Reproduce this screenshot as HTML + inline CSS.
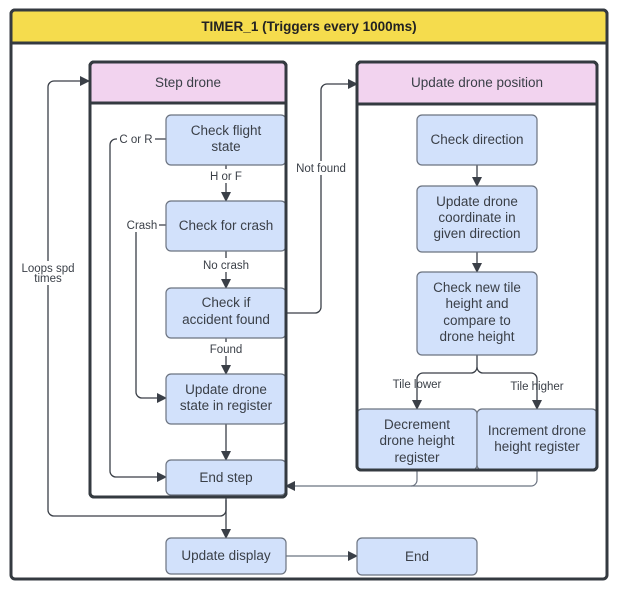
<!DOCTYPE html>
<html><head><meta charset="utf-8"><style>
html,body{margin:0;padding:0;background:#fff;}
svg{display:block;font-family:"Liberation Sans",Arial,sans-serif;}
.n{fill:#d2e1fb;stroke:#6b7380;stroke-width:1.2;}
.t{font-size:13.5px;fill:#3a3f47;text-anchor:middle;}
.l{font-size:11.5px;fill:#3a3f47;text-anchor:middle;}
.c{fill:none;stroke:#3a3f47;stroke-width:1.3;}
.c2{fill:none;stroke:#6b7380;stroke-width:1.2;}
</style></head><body>
<svg width="619" height="601" viewBox="0 0 619 601">
<defs><marker id="a" markerWidth="10" markerHeight="10" refX="9" refY="5" orient="auto" markerUnits="userSpaceOnUse"><path d="M0,0 L10,5 L0,10z" fill="#3a3f47"/></marker></defs>
<!-- outer -->
<rect x="11" y="10" width="596" height="569" rx="4" fill="#fff" stroke="#343a40" stroke-width="3"/>
<path d="M11,43 V14 a4,4 0 0 1 4,-4 H603 a4,4 0 0 1 4,4 V43 Z" fill="#f5dc4d" stroke="#343a40" stroke-width="3"/>
<text x="309" y="31" text-anchor="middle" font-size="13.5" font-weight="bold" fill="#222">TIMER_1 (Triggers every 1000ms)</text>
<!-- step drone container -->
<rect x="90" y="62" width="196" height="435" rx="4" fill="#fff" stroke="#343a40" stroke-width="3"/>
<path d="M90,103 V66 a4,4 0 0 1 4,-4 H282 a4,4 0 0 1 4,4 V103 Z" fill="#f2d3ef" stroke="#343a40" stroke-width="3"/>
<text class="t" x="188" y="87">Step drone</text>
<!-- update position container -->
<rect x="357" y="62" width="240" height="408" rx="4" fill="#fff" stroke="#343a40" stroke-width="3"/>
<path d="M357,104 V66 a4,4 0 0 1 4,-4 H593 a4,4 0 0 1 4,4 V104 Z" fill="#f2d3ef" stroke="#343a40" stroke-width="3"/>
<text class="t" x="477" y="87">Update drone position</text>
<!-- connectors -->
<path class="c" d="M226,165 V201" marker-end="url(#a)"/>
<path class="c" d="M226,251 V288" marker-end="url(#a)"/>
<path class="c" d="M226,338 V374" marker-end="url(#a)"/>
<path class="c" d="M226,424 V460" marker-end="url(#a)"/>
<path class="c" d="M226,495 V538" marker-end="url(#a)"/>
<path class="c" d="M226,500 V510 a6,6 0 0 1 -6,6 H54 a6,6 0 0 1 -6,-6 V87 a6,6 0 0 1 6,-6 H89" marker-end="url(#a)"/>
<path class="c" d="M166,139 H116 a6,6 0 0 0 -6,6 V471 a6,6 0 0 0 6,6 H166" marker-end="url(#a)"/>
<path class="c" d="M166,225 H142 a6,6 0 0 0 -6,6 V392 a6,6 0 0 0 6,6 H166" marker-end="url(#a)"/>
<path class="c" d="M286,313 H315 a6,6 0 0 0 6,-6 V90 a6,6 0 0 1 6,-6 H357" marker-end="url(#a)"/>
<path class="c" d="M477,165 V186" marker-end="url(#a)"/>
<path class="c" d="M477,252 V272" marker-end="url(#a)"/>
<path class="c" d="M477,355 V367 a6,6 0 0 1 -6,6 H423 a6,6 0 0 0 -6,6 V409" marker-end="url(#a)"/>
<path class="c" d="M477,367 a6,6 0 0 0 6,6 H531 a6,6 0 0 1 6,6 V409" marker-end="url(#a)"/>
<path class="c2" d="M417,470 V480 a6,6 0 0 1 -6,6 H286" marker-end="url(#a)"/>
<path class="c2" d="M537,470 V480 a6,6 0 0 1 -6,6 H411"/>
<path class="c2" d="M286,556 H357" marker-end="url(#a)"/>
<!-- labels -->
<rect x="204" y="169" width="44" height="14" fill="#fff"/><text class="l" x="226" y="180">H or F</text>
<rect x="198" y="258" width="56" height="14" fill="#fff"/><text class="l" x="226" y="269">No crash</text>
<rect x="206" y="342" width="40" height="14" fill="#fff"/><text class="l" x="226" y="353">Found</text>
<rect x="117" y="132" width="38" height="14" fill="#fff"/><text class="l" x="136" y="143">C or R</text>
<rect x="125" y="218" width="34" height="14" fill="#fff"/><text class="l" x="142" y="229">Crash</text>
<rect x="294" y="161" width="54" height="14" fill="#fff"/><text class="l" x="321" y="172">Not found</text>
<rect x="18" y="261" width="60" height="24" fill="#fff"/><text class="l" x="48" y="272">Loops spd</text><text class="l" x="48" y="282">times</text>
<text class="l" x="417" y="388">Tile lower</text>
<text class="l" x="537" y="390">Tile higher</text>
<!-- nodes -->
<rect class="n" x="166" y="115" width="120" height="50" rx="5"/>
<text class="t" x="226" y="135">Check flight</text><text class="t" x="226" y="151">state</text>
<rect class="n" x="166" y="201" width="120" height="50" rx="5"/>
<text class="t" x="226" y="230">Check for crash</text>
<rect class="n" x="166" y="288" width="120" height="50" rx="5"/>
<text class="t" x="226" y="307">Check if</text><text class="t" x="226" y="324">accident found</text>
<rect class="n" x="166" y="374" width="120" height="50" rx="5"/>
<text class="t" x="226" y="394">Update drone</text><text class="t" x="226" y="410">state in register</text>
<rect class="n" x="166" y="460" width="120" height="35" rx="5"/>
<text class="t" x="226" y="482">End step</text>
<rect class="n" x="166" y="538" width="120" height="36" rx="5"/>
<text class="t" x="226" y="560">Update display</text>
<rect class="n" x="357" y="538" width="120" height="37" rx="5"/>
<text class="t" x="417" y="561">End</text>
<rect class="n" x="417" y="115" width="120" height="50" rx="5"/>
<text class="t" x="477" y="144">Check direction</text>
<rect class="n" x="417" y="186" width="120" height="66" rx="5"/>
<text class="t" x="477" y="206">Update drone</text><text class="t" x="477" y="222">coordinate in</text><text class="t" x="477" y="238">given direction</text>
<rect class="n" x="417" y="272" width="120" height="83" rx="5"/>
<text class="t" x="477" y="292">Check new tile</text><text class="t" x="477" y="308">height and</text><text class="t" x="477" y="325">compare to</text><text class="t" x="477" y="341">drone height</text>
<rect class="n" x="357" y="409" width="120" height="61" rx="5"/>
<text class="t" x="417" y="429">Decrement</text><text class="t" x="417" y="445">drone height</text><text class="t" x="417" y="462">register</text>
<rect class="n" x="477" y="409" width="120" height="61" rx="5"/>
<text class="t" x="537" y="435">Increment drone</text><text class="t" x="537" y="451">height register</text>
<!-- container borders redrawn over nodes -->
<rect x="357" y="62" width="240" height="408" rx="4" fill="none" stroke="#343a40" stroke-width="3"/>
<rect x="90" y="62" width="196" height="435" rx="4" fill="none" stroke="#343a40" stroke-width="3"/>
</svg>
</body></html>
